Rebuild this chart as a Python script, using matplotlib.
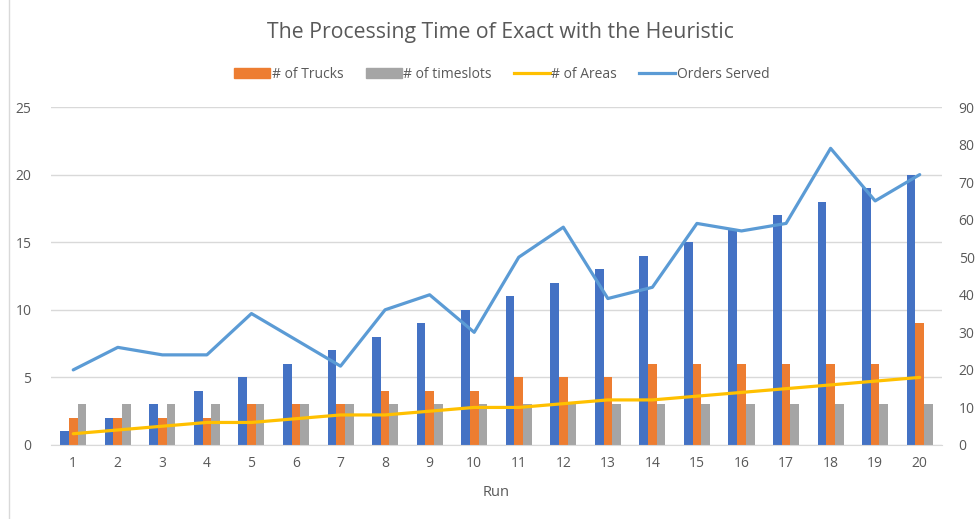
import matplotlib
matplotlib.use('Agg')
import matplotlib.pyplot as plt
import numpy as np
from matplotlib.lines import Line2D
from matplotlib.patches import Patch

# data
runs = list(range(1, 21))
run_bar = [1, 2, 3, 4, 5, 6, 7, 8, 9, 10, 11, 12, 13, 14, 15, 16, 17, 18, 19, 20]
trucks = [2, 2, 2, 2, 3, 3, 3, 4, 4, 4, 5, 5, 5, 6, 6, 6, 6, 6, 6, 9]
timeslots = [3] * 20
areas = [3, 4, 5, 6, 6, 7, 8, 8, 9, 10, 10, 11, 12, 12, 13, 14, 15, 16, 17, 18]
orders = [20, 26, 24, 24, 35, 28, 21, 36, 40, 30, 50, 58, 39, 42, 59, 57, 59, 79, 65, 72]

plt.rcParams['font.family'] = ['Open Sans', 'DejaVu Sans']
txt = '#595959'

fig = plt.figure(figsize=(9.8, 5.19), dpi=100)
ax = fig.add_axes([0.052, 0.1426, 0.9092, 0.6512])
ax2 = ax.twinx()

x = np.array(runs)
w = 0.195
ax.bar(x - w, run_bar, w, color='#4472C4', zorder=2)
ax.bar(x, trucks, w, color='#ED7D31', zorder=2)
ax.bar(x + w, timeslots, w, color='#A5A5A5', zorder=2)

ax2.plot(x, areas, color='#FFC000', lw=2.3, solid_capstyle='round', zorder=3)
ax2.plot(x, orders, color='#5B9BD5', lw=2.3, solid_capstyle='round', zorder=3)

ax.set_xlim(0.5, 20.5)
ax.set_ylim(0, 25)
ax2.set_ylim(0, 90)
ax.set_yticks(range(0, 26, 5))
ax2.set_yticks(range(0, 91, 10))
ax.set_xticks(runs)
ax.grid(axis='y', color='#D9D9D9', lw=1, zorder=0)
ax.set_axisbelow(True)

for a in (ax, ax2):
    for s in a.spines.values():
        s.set_visible(False)
    a.tick_params(length=0, labelsize=10, labelcolor=txt)
ax.spines['bottom'].set_visible(True)
ax.spines['bottom'].set_color('#D9D9D9')
ax.tick_params(axis='y', pad=14)
ax.tick_params(axis='x', pad=8)
ax2.tick_params(axis='y', pad=12)

ax.set_xlabel('Run', fontsize=10.5, color=txt, labelpad=10)
fig.text(0.511, 0.938, 'The Processing Time of Exact with the Heuristic',
         ha='center', va='center', fontsize=15.3, color=txt)

handles = [Patch(color='#ED7D31'), Patch(color='#A5A5A5'),
           Line2D([], [], color='#FFC000', lw=2.3),
           Line2D([], [], color='#5B9BD5', lw=2.3)]
labels = ['# of Trucks', '# of timeslots', '# of Areas', 'Orders Served']
fig.legend(handles, labels, loc='center', bbox_to_anchor=(0.512, 0.857), ncol=4,
           frameon=False, fontsize=10, labelcolor=txt, handlelength=2.6,
           handletextpad=0.1, columnspacing=1.6, handleheight=0.8)

fig.add_artist(Line2D([0.009, 0.009], [0, 1], color='#D9D9D9', lw=1))

fig.savefig('out.png', dpi=100)
